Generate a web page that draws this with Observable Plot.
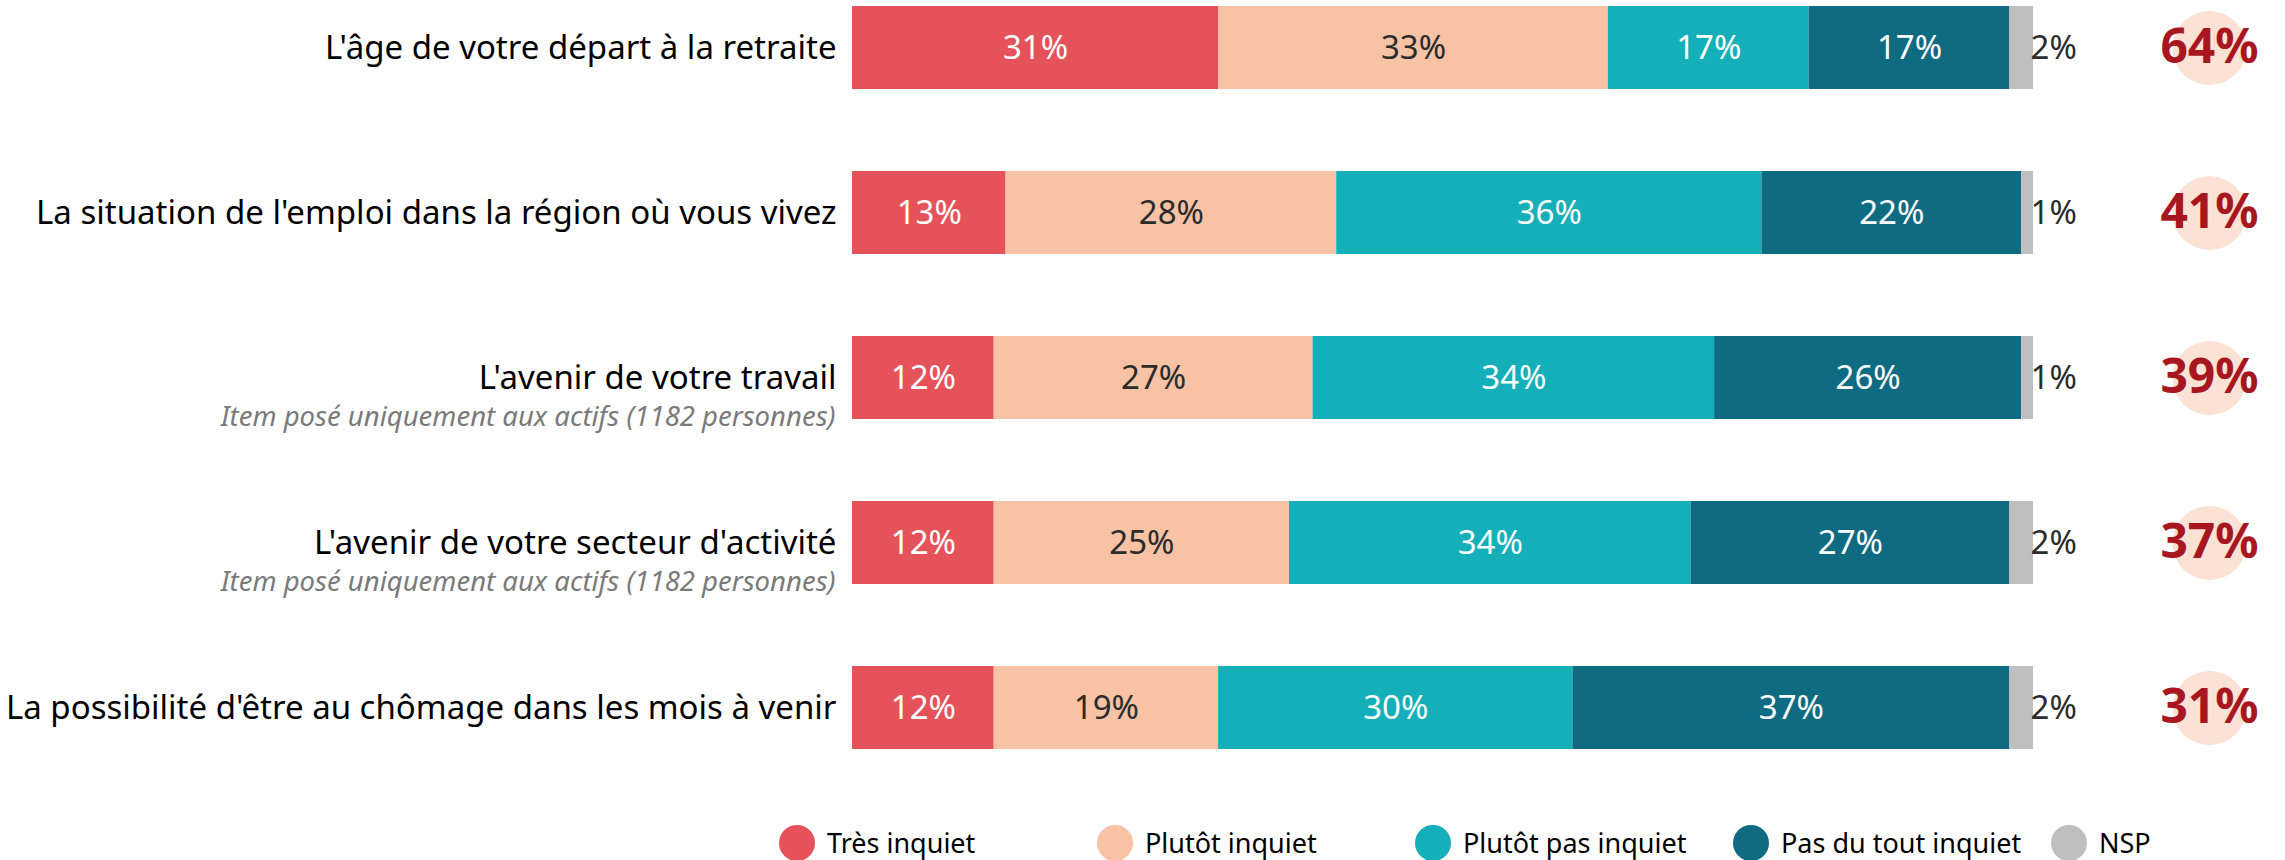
<!DOCTYPE html>
<html>
<head>
<meta charset="utf-8">
<script src="https://cdn.jsdelivr.net/npm/d3@7"></script>
<script src="https://cdn.jsdelivr.net/npm/@observablehq/plot@0.6"></script>
<style>
  html, body { margin: 0; padding: 0; background: #ffffff; }
  body { width: 2285px; height: 860px; position: relative; overflow: hidden; font-family: "Noto Sans", sans-serif; }
  #chart svg { display: block; }
  #legend { position: absolute; left: 779px; top: 825px; display: flex; }
  #legend .item { width: 318px; display: flex; align-items: center; height: 36px; }
  #legend .sw { width: 36px; height: 36px; border-radius: 50%; margin-right: 12px; flex: none; }
  #legend .lb { font-size: 27px; color: #000; white-space: nowrap; line-height: 36px; }
</style>
</head>
<body>
<div id="chart"></div>
<div id="legend"></div>
<script>
// ---- data ----
const items = [
  "L'âge de votre départ à la retraite",
  "La situation de l'emploi dans la région où vous vivez",
  "L'avenir de votre travail",
  "L'avenir de votre secteur d'activité",
  "La possibilité d'être au chômage dans les mois à venir"
];
const notes = [
  "",
  "",
  "Item posé uniquement aux actifs (1182 personnes)",
  "Item posé uniquement aux actifs (1182 personnes)",
  ""
];
const categories = ["Très inquiet", "Plutôt inquiet", "Plutôt pas inquiet", "Pas du tout inquiet", "NSP"];
const tresInquiet     = [31, 13, 12, 12, 12];
const plutotInquiet   = [33, 28, 27, 25, 19];
const plutotPasInquiet= [17, 36, 34, 34, 30];
const pasDuTout       = [17, 22, 26, 27, 37];
const nsp             = [2, 1, 1, 2, 2];
const totalInquiet    = [64, 41, 39, 37, 31];
const colors = ["#e5525a", "#f7c3a4", "#14afb8", "#0f6b81", "#bfbfbf"];

// ---- build tables ----
const series = [tresInquiet, plutotInquiet, plutotPasInquiet, pasDuTout, nsp];
const data = [];
items.forEach((item, i) => {
  categories.forEach((cat, j) => data.push({item, cat, value: series[j][i]}));
});
const rows = items.map((item, i) => ({
  item,
  note: notes[i],
  nsp: nsp[i],
  end: series.reduce((s, arr) => s + arr[i], 0),
  total: totalInquiet[i]
}));

const darkText = new Set(["Plutôt inquiet"]);
const noInside = new Set(["NSP"]);

const chart = Plot.plot({
  width: 2285,
  height: 800,
  marginLeft: 852,
  marginRight: 252,
  marginTop: 0,
  marginBottom: 0,
  style: {fontFamily: "'Noto Sans', sans-serif", background: "#ffffff", overflow: "visible"},
  x: {domain: [0, 100], axis: null},
  y: {domain: items, range: [5.7, 749.3], paddingInner: 0.5, paddingOuter: 0, axis: null},
  color: {domain: categories, range: colors},
  marks: [
    Plot.barX(data, Plot.stackX({x: "value", y: "item", fill: "cat", z: "cat", order: categories})),
    Plot.text(data, Plot.stackX({
      x: "value", y: "item", z: "cat", order: categories,
      text: d => (noInside.has(d.cat) || darkText.has(d.cat)) ? null : d.value + "%",
      fill: "white", fontSize: 33
    })),
    Plot.text(data, Plot.stackX({
      x: "value", y: "item", z: "cat", order: categories,
      text: d => darkText.has(d.cat) ? d.value + "%" : null,
      fill: "#2b2b2b", fontSize: 33
    })),
    // NSP labels outside bar
    Plot.text(rows, {x: "end", y: "item", text: d => d.nsp + "%", textAnchor: "start", dx: -3, fill: "#2b2b2b", fontSize: 33}),
    // category labels
    Plot.text(rows, {y: "item", text: "item", frameAnchor: "left", textAnchor: "end", dx: -16, fill: "#000", fontSize: 33}),
    Plot.text(rows.filter(d => d.note), {y: "item", text: "note", frameAnchor: "left", textAnchor: "end", dx: -17, dy: 39, fill: "#7a7a7a", fontSize: 27.5, fontStyle: "italic"}),
    // totals
    Plot.dot(rows, {y: "item", frameAnchor: "right", dx: 176, r: 37, fill: "#fbe2d4"}),
    Plot.text(rows, {y: "item", frameAnchor: "right", textAnchor: "middle", dx: 176, text: d => d.total + "%", fill: "#a8161f", fontSize: 48, fontWeight: "bold"})
  ]
});
document.getElementById("chart").appendChild(chart);

// ---- legend ----
const legend = document.getElementById("legend");
categories.forEach((c, i) => {
  const it = document.createElement("div");
  it.className = "item";
  const sw = document.createElement("div");
  sw.className = "sw";
  sw.style.background = colors[i];
  const lb = document.createElement("div");
  lb.className = "lb";
  lb.textContent = c;
  it.appendChild(sw);
  it.appendChild(lb);
  legend.appendChild(it);
});
</script>
</body>
</html>
